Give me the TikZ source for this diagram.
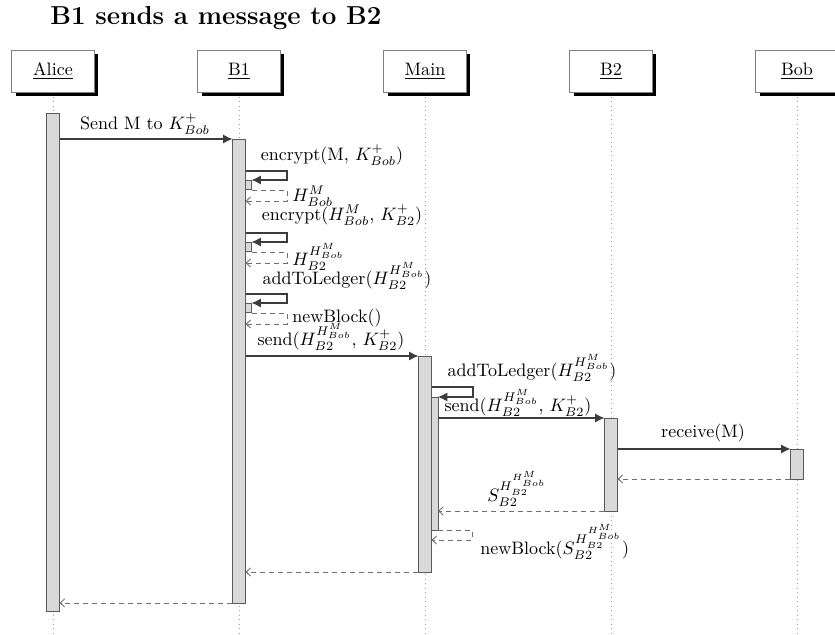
\documentclass[tikz,border=0pt]{standalone}
\usetikzlibrary{shadows,arrows.meta}
\definecolor{barfill}{HTML}{D9D9D9}
\definecolor{barline}{HTML}{5A5A5A}
\definecolor{msgline}{HTML}{3C3C3C}
\definecolor{retline}{HTML}{6E6E6E}
\definecolor{lifeline}{HTML}{A0A0A0}
\begin{document}
\begin{tikzpicture}[x=0.555pt,y=-0.555pt,
  actor/.style={draw=gray, fill=white, line width=0.5pt, minimum width=46pt,
    minimum height=23.3pt, inner sep=0pt,
    drop shadow={shadow xshift=2.2pt, shadow yshift=-2.2pt, fill=black, opacity=1}},
  life/.style={draw=lifeline, dotted, line width=0.5pt},
  bar/.style={draw=barline, fill=barfill, line width=0.5pt},
  call/.style={draw=msgline, line width=0.6pt, -{Latex[length=5.2pt,width=5pt]}},
  ret/.style={draw=retline, dash pattern=on 3pt off 2pt, line width=0.5pt,
    -{Straight Barb[length=2.5pt,width=4.5pt]}},
  lbl/.style={inner sep=0pt}]
\useasboundingbox (0,0) rectangle (835,635);

% title
\node[font=\Large\bfseries, anchor=west] (title) at (44,18) {B1 sends a message to B2};

% participants
\node[actor] (alice) at (53,71) {\underline{Alice}};
\node[actor] (b1)    at (239,71) {\underline{B1}};
\node[actor] (main)  at (425,71) {\underline{Main}};
\node[actor] (b2)    at (611,71) {\underline{B2}};
\node[actor] (bob)   at (797,71) {\underline{Bob}};

% lifelines
\coordinate (bottom) at (0,635);
\foreach \p in {alice,b1,main,b2,bob}
  \draw[life] (\p.south) -- (\p.south |- bottom);

% activation bars
\draw[bar] (46.5,113) rectangle (59.5,611);
\draw[bar] (232.5,139) rectangle (245.5,603);
\draw[bar] (418.5,356) rectangle (431.5,572);
\draw[bar] (431.5,397) rectangle (438,530);
\draw[bar] (604.5,418) rectangle (617.5,511);
\draw[bar] (790.5,449) rectangle (803.5,479);

% Alice -> B1
\coordinate (a1) at (59.5,139);
\coordinate (b1in) at (232.5,139);
\draw[call] (a1) -- (b1in);
\node[lbl] (l1) at (145,124) {Send M to $K_{Bob}^+$};

% B1 self calls
\foreach \t/\n in {171/1,233/2,294/3}{
  \coordinate (s\n a) at (245.5,\t);
  \coordinate (s\n b) at (287,\t);
  \coordinate (s\n c) at (287,\t+9);
  \coordinate (s\n d) at (251.5,\t+9);
  \draw[call] (s\n a) -- (s\n b) -- (s\n c) -- (s\n d);
  \draw[bar] (245.5,\t+9) rectangle (251.5,\t+18.5);
  \coordinate (r\n a) at (251.5,\t+19.5);
  \coordinate (r\n b) at (287,\t+19.5);
  \coordinate (r\n c) at (287,\t+30);
  \coordinate (r\n d) at (245.5,\t+30);
  \draw[ret] (r\n a) -- (r\n b) -- (r\n c) -- (r\n d);
}
\node[lbl] (l2) at (332,155) {encrypt(M, $K_{Bob}^+$)};
\node[lbl, anchor=west] (l3) at (292,196) {$H_{Bob}^M$};
\node[lbl] (l4) at (342,215) {encrypt($H_{Bob}^M$, $K_{B2}^+$)};
\node[lbl, anchor=west] (l5) at (292,257) {$H_{B2}^{H_{Bob}^M}$};
\node[lbl] (l6) at (347,276) {addToLedger($H_{B2}^{H_{Bob}^M}$)};
\node[lbl, anchor=west] (l7) at (292,318) {newBlock()};

% B1 -> Main
\coordinate (b1out) at (245.5,356);
\coordinate (mainin) at (418.5,356);
\draw[call] (b1out) -- (mainin);
\node[lbl] (l8) at (331,337) {send($H_{B2}^{H_{Bob}^M}$, $K_{B2}^+$)};

% Main self call
\coordinate (ma) at (431.5,387);
\coordinate (mb) at (473,387);
\coordinate (mc) at (473,397);
\coordinate (md) at (438,397);
\draw[call] (ma) -- (mb) -- (mc) -- (md);
\node[lbl] (l9) at (532,368) {addToLedger($H_{B2}^{H_{Bob}^M}$)};

% Main -> B2
\coordinate (mout) at (438,418);
\coordinate (b2in) at (604.5,418);
\draw[call] (mout) -- (b2in);
\node[lbl] (l10) at (518,403) {send($H_{B2}^{H_{Bob}^M}$, $K_{B2}^+$)};

% B2 -> Bob
\coordinate (b2out) at (617.5,449);
\coordinate (bobin) at (790.5,449);
\draw[call] (b2out) -- (bobin);
\node[lbl] (l11) at (703,433) {receive(M)};
\coordinate (bobout) at (790.5,479);
\coordinate (b2back) at (617.5,479);
\draw[ret] (bobout) -- (b2back);

% B2 -> Main
\coordinate (b2ret) at (604.5,511);
\coordinate (mback) at (438,511);
\draw[ret] (b2ret) -- (mback);
\node[lbl] (l12) at (517,489) {$S_{B2}^{H_{B2}^{H_{Bob}^M}}$};

% Main newBlock
\coordinate (na) at (438,530);
\coordinate (nb) at (472,530);
\coordinate (nc) at (472,540);
\coordinate (nd) at (431.5,540);
\draw[ret] (na) -- (nb) -- (nc) -- (nd);
\node[lbl, anchor=west] (l13) at (480,542) {newBlock($S_{B2}^{H_{B2}^{H_{Bob}^M}}$)};

% Main -> B1, B1 -> Alice
\coordinate (mret) at (418.5,572);
\coordinate (b1back) at (245.5,572);
\draw[ret] (mret) -- (b1back);
\coordinate (b1ret) at (232.5,603);
\coordinate (aback) at (59.5,603);
\draw[ret] (b1ret) -- (aback);
\end{tikzpicture}
\end{document}
